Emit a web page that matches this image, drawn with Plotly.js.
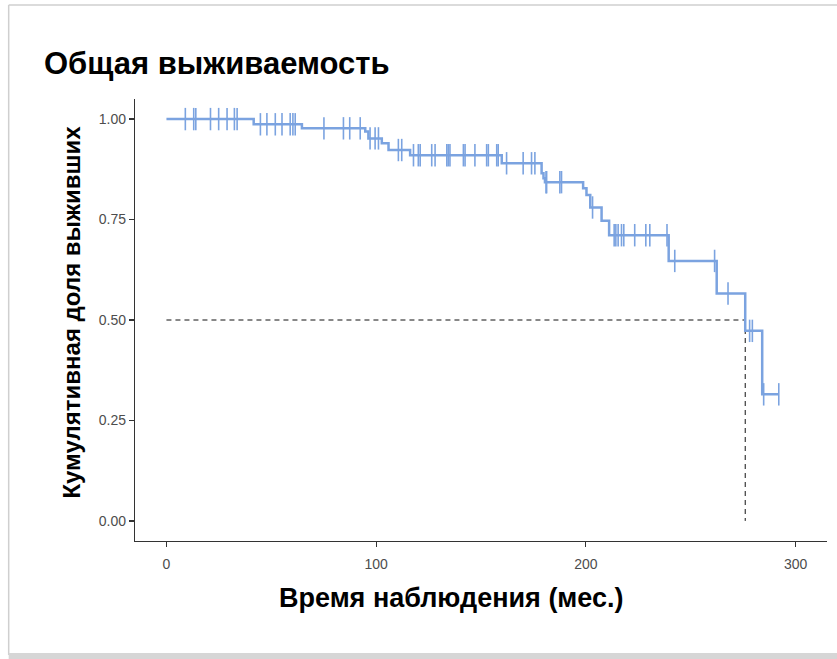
<!DOCTYPE html>
<html>
<head>
<meta charset="utf-8">
<script src="https://cdn.plot.ly/plotly-3.0.1.min.js"></script>
<style>
html,body{margin:0;padding:0;background:#fff;}
#chart{width:837px;height:659px;}
</style>
</head>
<body>
<div id="chart"></div>
<script>
// Event (death) times in months and Kaplan-Meier survival after each event
const eventTimes = [41.6, 64.6, 94.8, 96.3, 102.7, 105.9, 116.2, 159.9, 178.9, 179.8, 180.5,
  198.7, 200.3, 202.1, 207.5, 211.1, 239.5, 262.4, 276.0, 284.1];
const survival = [0.987, 0.977, 0.969, 0.952, 0.940, 0.923, 0.910, 0.890, 0.865, 0.853, 0.843,
  0.828, 0.811, 0.780, 0.747, 0.711, 0.647, 0.566, 0.473, 0.315];
// Censoring times (months)
const censorTimes = [9.0, 13.0, 14.0, 21.0, 24.9, 28.9, 32.4, 33.7, 44.8, 47.9, 51.9, 55.1, 59.0,
  60.3, 61.4, 75.1, 84.4, 87.4, 92.4, 97.1, 99.5, 101.1, 110.6, 112.2, 117.8, 120.1, 121.0, 126.5,
  128.1, 133.7, 134.4, 135.2, 141.6, 142.4, 147.1, 152.7, 153.5, 157.5, 158.2, 162.2, 170.1, 174.1,
  175.7, 181.0, 181.3, 187.6, 188.4, 203.2, 213.5, 214.3, 215.4, 217.0, 218.1, 223.3, 228.6, 230.5,
  238.7, 242.4, 261.4, 267.8, 278.1, 279.4, 284.8, 292.0];
const lastTime = 292.0;
const medianTime = 276.0;
const xTicks = [0, 100, 200, 300];
const yTicks = [0, 0.25, 0.5, 0.75, 1.0];
const yTickLabels = ['0.00', '0.25', '0.50', '0.75', '1.00'];
const titleText = 'Общая выживаемость';
const xTitleText = 'Время наблюдения (мес.)';
const yTitleText = 'Кумулятивная доля выживших';

const stepX = [0].concat(eventTimes, [lastTime]);
const stepY = [1].concat(survival, [survival[survival.length - 1]]);

function survAt(t) {
  let s = 1;
  for (let i = 0; i < eventTimes.length; i++) {
    if (eventTimes[i] <= t) s = survival[i];
  }
  return s;
}
const censorY = censorTimes.map(survAt);

const blue = '#7ba3e0';
const font = 'Liberation Sans, Arial, sans-serif';

const traces = [
  {
    x: [0, medianTime], y: [0.5, 0.5], mode: 'lines', hoverinfo: 'skip',
    line: {color: '#111', width: 1, dash: '5px,4px'}, showlegend: false
  },
  {
    x: [medianTime, medianTime], y: [0.5, 0], mode: 'lines', hoverinfo: 'skip',
    line: {color: '#111', width: 1, dash: '5px,4px'}, showlegend: false
  },
  {
    x: stepX, y: stepY, mode: 'lines', line: {color: blue, width: 2.5, shape: 'hv'},
    showlegend: false
  },
  {
    x: censorTimes, y: censorY, mode: 'markers', showlegend: false,
    marker: {symbol: 'line-ns-open', size: 16, color: blue, line: {color: blue, width: 1.6}}
  }
];

const layout = {
  width: 837, height: 659,
  paper_bgcolor: '#fff', plot_bgcolor: '#fff',
  margin: {l: 134.5, r: 9.5, t: 99, b: 118},
  font: {family: font, color: '#000'},
  title: {
    text: '<b>' + titleText + '</b>',
    font: {family: font, size: 31, color: '#000'},
    xref: 'container', yref: 'container', x: 44 / 837, xanchor: 'left',
    y: 1 - 63 / 659, yanchor: 'middle'
  },
  xaxis: {
    range: [-15, 315], tickvals: xTicks, ticktext: xTicks.map(String),
    showgrid: false, zeroline: false, showline: true, linecolor: '#333', linewidth: 1.2,
    ticks: 'outside', ticklen: 5, tickcolor: '#333', tickwidth: 1.2,
    ticklabelstandoff: 5,
    tickfont: {family: font, size: 14, color: '#4d4d4d'}
  },
  yaxis: {
    range: [-0.05, 1.05], tickvals: yTicks, ticktext: yTickLabels,
    showgrid: false, zeroline: false, showline: true, linecolor: '#333', linewidth: 1.2,
    ticks: 'outside', ticklen: 5, tickcolor: '#333', tickwidth: 1.2,
    tickfont: {family: font, size: 14, color: '#4d4d4d'}
  },
  annotations: [
    {text: '<b>' + xTitleText + '</b>', xref: 'paper', yref: 'paper', showarrow: false,
      x: (451 - 134.5) / 693, y: (541 - 598) / 442, xanchor: 'center', yanchor: 'middle',
      font: {family: font, size: 27, color: '#000'}},
    {text: '<b>' + yTitleText + '</b>', xref: 'paper', yref: 'paper', showarrow: false, textangle: -90,
      x: (70 - 134.5) / 693, y: (541 - 312) / 442, xanchor: 'center', yanchor: 'middle',
      font: {family: font, size: 24, color: '#000'}}
  ],
  shapes: [
    {type: 'line', xref: 'paper', yref: 'paper', x0: (8 - 134.5) / 693, x1: 1.02, y0: (541 - 5) / 442, y1: (541 - 5) / 442,
      line: {color: '#cfcfcf', width: 1.5}},
    {type: 'line', xref: 'paper', yref: 'paper', x0: (8 - 134.5) / 693, x1: (8 - 134.5) / 693, y0: (541 - 5) / 442, y1: (541 - 655) / 442,
      line: {color: '#cfcfcf', width: 1.5}},
    {type: 'rect', xref: 'paper', yref: 'paper', x0: (8 - 134.5) / 693, x1: 1.02, y0: (541 - 653) / 442, y1: (541 - 660) / 442,
      line: {width: 0}, fillcolor: '#d6d6d6'}
  ]
};

Plotly.newPlot('chart', traces, layout, {displayModeBar: false, staticPlot: true});
</script>
</body>
</html>
